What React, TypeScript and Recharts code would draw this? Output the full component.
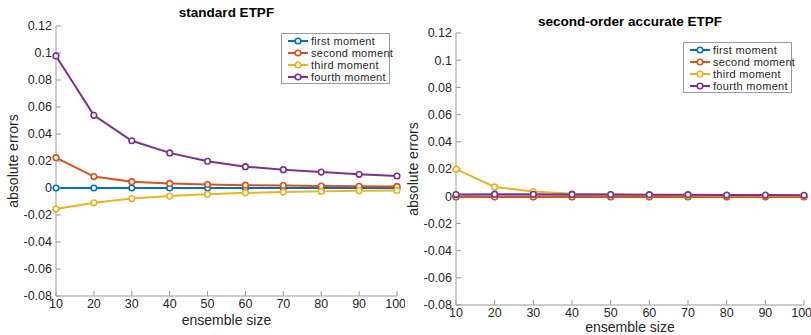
import { Line, LineChart, XAxis, YAxis } from "recharts";

const sizes = [10, 20, 30, 40, 50, 60, 70, 80, 90, 100];
const yTicks = [-0.08, -0.06, -0.04, -0.02, 0, 0.02, 0.04, 0.06, 0.08, 0.1, 0.12];
const seriesNames = ["first moment", "second moment", "third moment", "fourth moment"];
const seriesColors = ["#0072bd", "#d95319", "#edb120", "#7e2f8e"];

// standard ETPF
const stdFirst = [0, 0, 0, 0, 0, 0, 0, 0, 0, 0];
const stdSecond = [0.0225, 0.0085, 0.0047, 0.0034, 0.0026, 0.0021, 0.0018, 0.0015, 0.0013, 0.0012];
const stdThird = [-0.0156, -0.011, -0.0078, -0.006, -0.0046, -0.0036, -0.003, -0.0025, -0.0021, -0.0018];
const stdFourth = [0.0978, 0.0538, 0.035, 0.026, 0.0198, 0.0158, 0.0136, 0.0118, 0.0101, 0.0089];

// second-order accurate ETPF
const soFirst = [-0.0003, -0.0003, -0.0003, -0.0003, -0.0003, -0.0003, -0.0003, -0.0003, -0.0003, -0.0003];
const soSecond = [-0.0005, -0.0005, -0.0005, -0.0005, -0.0005, -0.0005, -0.0005, -0.0005, -0.0005, -0.0005];
const soThird = [0.0199, 0.0068, 0.0034, 0.0018, 0.0012, 0.0009, 0.0007, 0.0006, 0.0005, 0.0004];
const soFourth = [0.0012, 0.0015, 0.0014, 0.0013, 0.0012, 0.0011, 0.0011, 0.0009, 0.0008, 0.0007];

const keys = ["m1", "m2", "m3", "m4"];
const FONT = '"Liberation Sans", Arial, Helvetica, sans-serif';
const AXIS = "#9a9a9a";
const TEXT = "#262626";

function buildRows(series: number[][]) {
  return sizes.map((n, i) => {
    const row: Record<string, number> = { n };
    series.forEach((s, j) => (row[keys[j]] = s[i]));
    return row;
  });
}

const fmt = (v: number) => String(+v.toFixed(2));

function LegendBox({ left, top }: { left: number; top: number }) {
  return (
    <div
      style={{
        position: "absolute",
        left,
        top,
        width: 109,
        height: 51,
        boxSizing: "border-box",
        border: `1px solid ${AXIS}`,
        background: "#fff",
        padding: "1px 0 0 5px",
        fontFamily: FONT,
        fontSize: 11,
        letterSpacing: 0.3,
        color: TEXT,
        whiteSpace: "nowrap",
      }}
    >
      {seriesNames.map((name, i) => (
        <div key={name} style={{ display: "flex", alignItems: "center", height: 12, lineHeight: "12px" }}>
          <svg width={22} height={10} style={{ marginRight: 2, flex: "none" }}>
            <line x1={1} y1={5} x2={21} y2={5} stroke={seriesColors[i]} strokeWidth={2} />
            <circle cx={11} cy={5} r={2.8} fill="#fff" stroke={seriesColors[i]} strokeWidth={1.6} />
          </svg>
          <span>{name}</span>
        </div>
      ))}
    </div>
  );
}

function Panel({
  title,
  series,
  left,
  width,
  margin,
  yWidth,
  xHeight,
  titleTop,
  yLabelX,
  xLabelTop,
  legend,
}: {
  title: string;
  series: number[][];
  left: number;
  width: number;
  margin: { top: number; right: number; left: number; bottom: number };
  yWidth: number;
  xHeight: number;
  titleTop: number;
  yLabelX: number;
  xLabelTop: number;
  legend: { left: number; top: number };
}) {
  const data = buildRows(series);
  const plotLeft = margin.left + yWidth;
  const plotRight = width - margin.right;
  const plotTop = margin.top;
  const plotBottom = 335 - margin.bottom - xHeight;
  const cx = (plotLeft + plotRight) / 2;
  const cy = (plotTop + plotBottom) / 2;
  return (
    <div style={{ position: "absolute", left, top: 0, width, height: 335 }}>
      <LineChart width={width} height={335} data={data} margin={margin}>
        <XAxis
          xAxisId="b"
          dataKey="n"
          type="number"
          domain={[10, 100]}
          ticks={sizes}
          height={xHeight}
          stroke={AXIS}
          tickSize={-5}
          tickMargin={8}
          tick={{ fill: TEXT, fontSize: 12.5, fontFamily: FONT }}
        />
        <XAxis
          xAxisId="t"
          orientation="top"
          dataKey="n"
          type="number"
          domain={[10, 100]}
          ticks={sizes}
          height={0}
          stroke={AXIS}
          tickSize={-5}
          tickFormatter={() => ""}
        />
        <YAxis
          yAxisId="l"
          type="number"
          domain={[-0.08, 0.12]}
          ticks={yTicks}
          width={yWidth}
          stroke={AXIS}
          tickSize={-5}
          tickMargin={9}
          tickFormatter={fmt}
          tick={{ fill: TEXT, fontSize: 12.5, fontFamily: FONT }}
        />
        <YAxis
          yAxisId="r"
          orientation="right"
          type="number"
          domain={[-0.08, 0.12]}
          ticks={yTicks}
          width={0}
          stroke={AXIS}
          tickSize={-5}
          tickFormatter={() => ""}
        />
        {keys.map((k, i) => (
          <Line
            key={k}
            xAxisId="b"
            yAxisId="l"
            dataKey={k}
            type="linear"
            stroke={seriesColors[i]}
            strokeWidth={2}
            dot={{ r: 2.8, fill: "#fff", stroke: seriesColors[i], strokeWidth: 1.6 }}
            isAnimationActive={false}
          />
        ))}
      </LineChart>
      <div
        style={{
          position: "absolute",
          left: cx - 150,
          width: 300,
          top: titleTop,
          textAlign: "center",
          fontFamily: FONT,
          fontWeight: "bold",
          fontSize: 13.5,
          color: "#000",
        }}
      >
        {title}
      </div>
      <div
        style={{
          position: "absolute",
          left: cx - 100,
          width: 200,
          top: xLabelTop,
          textAlign: "center",
          fontFamily: FONT,
          fontSize: 14,
          lineHeight: "14px",
          color: TEXT,
        }}
      >
        ensemble size
      </div>
      <div
        style={{
          position: "absolute",
          left: yLabelX - 100,
          top: cy - 8,
          width: 200,
          textAlign: "center",
          transform: "rotate(-90deg)",
          fontFamily: FONT,
          fontSize: 14,
          lineHeight: "16px",
          color: TEXT,
        }}
      >
        absolute errors
      </div>
      <LegendBox left={legend.left} top={legend.top} />
    </div>
  );
}

export default function App() {
  return (
    <div style={{ position: "absolute", left: 0, top: 0, width: 811, height: 335, background: "#fff", overflow: "hidden" }}>
      <Panel
        title="standard ETPF"
        series={[stdFirst, stdSecond, stdThird, stdFourth]}
        left={0}
        width={405}
        margin={{ top: 26, right: 8, left: 0, bottom: 0 }}
        yWidth={56}
        xHeight={39}
        titleTop={5}
        yLabelX={13}
        xLabelTop={313}
        legend={{ left: 281, top: 33 }}
      />
      <Panel
        title="second-order accurate ETPF"
        series={[soFirst, soSecond, soThird, soFourth]}
        left={405}
        width={406}
        margin={{ top: 33, right: 7, left: 0, bottom: 0 }}
        yWidth={51}
        xHeight={30}
        titleTop={14}
        yLabelX={8}
        xLabelTop={320}
        legend={{ left: 278, top: 42 }}
      />
    </div>
  );
}
